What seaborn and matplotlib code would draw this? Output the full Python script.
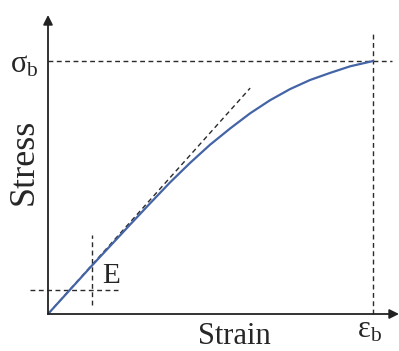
import numpy as np
import pandas as pd
import matplotlib
matplotlib.use("Agg")
import matplotlib.pyplot as plt
import seaborn as sns

# Stress-strain curve (normalised: strain / eps_b, stress / sigma_b)
strain = [0, 0.1354, 0.2523, 0.3138, 0.3754, 0.4369, 0.4985, 0.5600, 0.6215,
          0.6831, 0.7446, 0.8062, 0.8677, 0.9292, 1.0]
stress = [0, 0.1917, 0.3530, 0.4370, 0.5200, 0.5970, 0.6690, 0.7330, 0.7930,
          0.8450, 0.8890, 0.9250, 0.9530, 0.9790, 1.0]

# Elastic tangent line end point
tangent_x = [0, 0.622]
tangent_y = [0, 0.893]

# Break point
eps_b = 1.0
sigma_b = 1.0

# Marker lines for "E"
e_x = 0.1354
e_y = 0.0949
e_vspan = [0.0356, 0.312]
e_hspan = [-0.055, 0.215]

labels = {"x": "Strain", "y": "Stress", "E": "E",
          "sig": r"$\mathrm{\sigma}_\mathrm{b}$", "eps": r"$\mathrm{\varepsilon}_\mathrm{b}$"}

sns.set_style("white")
plt.rcParams["font.family"] = ["Liberation Serif", "DejaVu Serif"]
plt.rcParams["mathtext.fontset"] = "custom"
plt.rcParams["mathtext.rm"] = "Liberation Serif"
plt.rcParams["mathtext.it"] = "Liberation Serif:italic"
plt.rcParams["mathtext.bf"] = "Liberation Serif:bold"

fig = plt.figure(figsize=(3.99, 3.51), dpi=100)
ax = fig.add_axes([48/399, 37/351, 351/399, 299/351])

xmax = 1.08
ymax = 1.182
ax.set_xlim(0, xmax)
ax.set_ylim(0, ymax)
for s in ax.spines.values():
    s.set_visible(False)
ax.set_xticks([])
ax.set_yticks([])

dash_kw = dict(color="#2a2a2a", lw=1.0, dashes=(3.5, 2.5), clip_on=False)

# sigma_b and eps_b lines
ax.plot([0, 1.058], [sigma_b, sigma_b], **dash_kw)
ax.plot([eps_b, eps_b], [0, 1.111], **dash_kw)
# tangent
ax.plot(tangent_x, tangent_y, **dash_kw)
# E lines
ax.plot([e_x, e_x], e_vspan, **dash_kw)
ax.plot(e_hspan, [e_y, e_y], **dash_kw)

df = pd.DataFrame({"strain": strain, "stress": stress})
sns.lineplot(data=df, x="strain", y="stress", ax=ax, color="#4464a6", lw=1.6,
             sort=False, clip_on=False)
ax.set_xlabel("")
ax.set_ylabel("")

# axes with arrows
arrow_kw = dict(arrowstyle="-|>", color="#222222", lw=1.3, mutation_scale=14,
                shrinkA=0, shrinkB=0)
ax.annotate("", xy=(0, ymax), xytext=(0, 0), xycoords="data",
            arrowprops=arrow_kw, annotation_clip=False)
ax.annotate("", xy=(xmax, 0), xytext=(0, 0), xycoords="data",
            arrowprops=arrow_kw, annotation_clip=False)

# texts
ax.text(0.575, -0.117, labels["x"], fontsize=22, ha="center", va="baseline",
        clip_on=False)
ax.text(-0.046, 0.601, labels["y"], fontsize=26, ha="center", va="baseline",
        rotation=90, rotation_mode="anchor", clip_on=False)
ax.text(0.166, 0.1225, labels["E"], fontsize=21, ha="left", va="baseline",
        clip_on=False)
ax.text(-0.117, 0.953, labels["sig"], fontsize=22, ha="left", va="baseline",
        clip_on=False)
ax.text(0.951, -0.091, labels["eps"], fontsize=22, ha="left", va="baseline",
        clip_on=False)

fig.savefig("out.png", dpi=100)
